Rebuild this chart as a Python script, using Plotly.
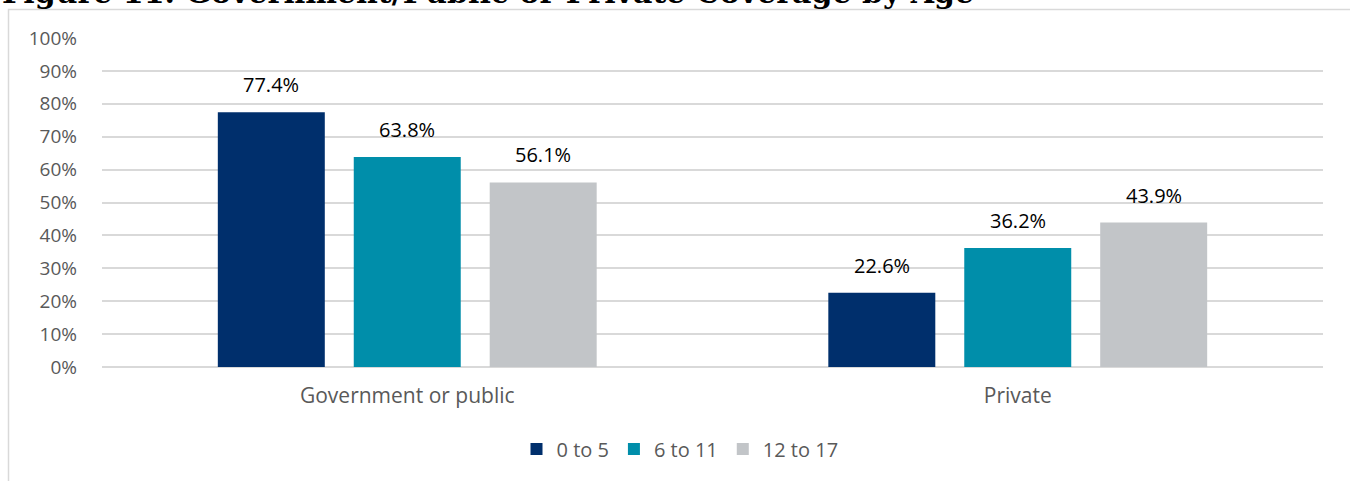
import plotly.graph_objects as go

categories = ["Government or public", "Private"]
series_names = ["0 to 5", "6 to 11", "12 to 17"]
values_0_5 = [0.774, 0.226]
values_6_11 = [0.638, 0.362]
values_12_17 = [0.561, 0.439]
colors = ["#002F6C", "#008EAA", "#C2C5C8"]
y_ticks = [i / 10 for i in range(11)]
y_tick_labels = [f"{i*10}%" for i in range(11)]
title_text = "Figure 11. Government/Public or Private Coverage by Age"

W, H = 1350, 481
ML, MR, MT, MB = 102, 27, 38, 114
PW, PH = W - ML - MR, H - MT - MB
BARGAP, GROUPGAP = 0.332, 0.213

def px_x(p):
    return (p - ML) / PW

def px_y(p):
    return (H - MB - p) / PH

font = "'Open Sans', Lato, sans-serif"

fig = go.Figure()
all_series = [values_0_5, values_6_11, values_12_17]
for name, vals, col in zip(series_names, all_series, colors):
    fig.add_trace(go.Bar(
        x=categories, y=vals, name=name, marker=dict(color=col, line=dict(width=0)),
    ))

slot_px = PW / len(categories) * (1 - BARGAP) / len(all_series)
annotations = []
for i, vals in enumerate(all_series):
    for cat, v in zip(categories, vals):
        annotations.append(dict(
            x=cat, y=v, xref="x", yref="y", text=f"{v*100:.1f}%", showarrow=False,
            xanchor="center", yanchor="bottom", xshift=(i - 1) * slot_px, yshift=12,
            font=dict(family=font, size=20, color="#000000"),
        ))

annotations.append(dict(text="<b>" + title_text + "</b>", xref="paper", yref="paper",
                        x=px_x(0), xanchor="left", y=px_y(12), yanchor="bottom", showarrow=False,
                        font=dict(family="'DejaVu Serif', serif", size=30, color="#000000")))

fig.update_layout(
    width=W, height=H,
    margin=dict(l=ML, r=MR, t=MT, b=MB),
    paper_bgcolor="white", plot_bgcolor="white",
    barmode="group", bargap=BARGAP, bargroupgap=GROUPGAP,
    font=dict(family=font, color="#595959"),
    showlegend=True,
    legend=dict(orientation="h", x=px_x(680), xanchor="center", y=px_y(449), yanchor="middle",
                font=dict(family=font, size=20, color="#595959"), itemwidth=30,
                traceorder="normal"),
    xaxis=dict(showgrid=False, showline=False, ticks="", tickfont=dict(family=font, size=21, color="#595959"),
               ticklabelstandoff=14),
    yaxis=dict(range=[0, 1], tickvals=y_ticks, ticktext=y_tick_labels, showgrid=True,
               gridcolor="#D9D9D9", gridwidth=1.5, zeroline=True, zerolinecolor="#D9D9D9", zerolinewidth=1.5,
               showline=False, ticks="", tickfont=dict(family=font, size=19, color="#595959"),
               ticklabelstandoff=24),
    shapes=[dict(type="rect", xref="paper", yref="paper",
                 x0=px_x(8.5), x1=px_x(1360), y0=px_y(500), y1=px_y(9.5),
                 line=dict(color="#D9D9D9", width=1.5), fillcolor="rgba(0,0,0,0)", layer="below")],
    annotations=annotations,
)

fig.write_html("out.html", config={"displayModeBar": False},
               post_script="document.body.style.margin='0';document.body.style.overflow='hidden';")
